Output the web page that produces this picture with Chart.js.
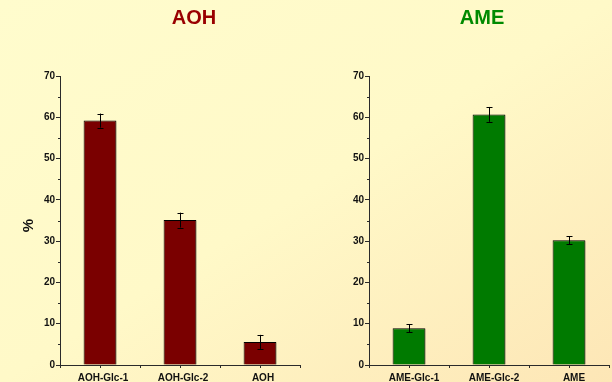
<!DOCTYPE html>
<html>
<head>
<meta charset="utf-8">
<script src="https://cdn.jsdelivr.net/npm/chart.js@4.4.1/dist/chart.umd.min.js"></script>
<style>
  html, body { margin: 0; padding: 0; }
  body {
    width: 612px; height: 382px; overflow: hidden; position: relative;
    background: linear-gradient(to bottom right, #FFFCCD 0%, #FFF9C8 50%, #FDE6B6 100%);
    font-family: "Liberation Sans", Arial, sans-serif;
  }
  .panel { position: absolute; top: 0; width: 306px; height: 382px; }
  #left { left: 0; }
  #right { left: 306px; }
</style>
</head>
<body>
<div class="panel" id="left"><canvas id="cAOH" width="306" height="382"></canvas></div>
<div class="panel" id="right"><canvas id="cAME" width="306" height="382"></canvas></div>
<script>
// Relative amounts (%) of the glucosides and free aglycones
const aohCategories = ['AOH-Glc-1', 'AOH-Glc-2', 'AOH'];
const aohValues = [59.2, 35.1, 5.6];
const aohErrors = [1.7, 1.8, 1.7];

const ameCategories = ['AME-Glc-1', 'AME-Glc-2', 'AME'];
const ameValues = [8.9, 60.7, 30.2];
const ameErrors = [1.0, 1.8, 1.0];

const yTicks = [0, 10, 20, 30, 40, 50, 60, 70];

const FONT = '"Liberation Sans", Arial, sans-serif';
const AXIS = '#2a2a2a';

// Error bars, minor ticks, category ticks, panel title and y-axis title
const decorations = {
  id: 'decorations',
  afterDatasetsDraw(chart, args, opts) {
    const ctx = chart.ctx;
    const x = chart.scales.x, y = chart.scales.y;
    const ds = chart.data.datasets[0];
    ctx.save();
    ctx.strokeStyle = '#000';
    ctx.lineWidth = 1;
    ds.data.forEach((v, i) => {
      const e = opts.errors[i];
      const cx = Math.round(x.getPixelForValue(i)) + 0.5;
      const top = y.getPixelForValue(v + e);
      const bot = y.getPixelForValue(v - e);
      ctx.beginPath();
      ctx.moveTo(cx, top); ctx.lineTo(cx, bot);
      ctx.moveTo(cx - 3, Math.round(top) + 0.5); ctx.lineTo(cx + 3, Math.round(top) + 0.5);
      ctx.moveTo(cx - 3, Math.round(bot) + 0.5); ctx.lineTo(cx + 3, Math.round(bot) + 0.5);
      ctx.stroke();
    });
    ctx.restore();
  },
  afterDraw(chart, args, opts) {
    const ctx = chart.ctx;
    const x = chart.scales.x, y = chart.scales.y;
    const area = chart.chartArea;
    ctx.save();
    ctx.strokeStyle = AXIS;
    ctx.lineWidth = 1;
    // minor ticks on the value axis
    ctx.beginPath();
    for (let v = 5; v < 70; v += 10) {
      const py = Math.round(y.getPixelForValue(v)) + 0.5;
      ctx.moveTo(area.left, py); ctx.lineTo(area.left - 2, py);
    }
    // ticks under each bar centre
    chart.data.labels.forEach((l, i) => {
      const px = Math.round(x.getPixelForValue(i)) + 0.5;
      ctx.moveTo(px, area.bottom); ctx.lineTo(px, area.bottom + 3);
    });
    ctx.stroke();

    // panel title
    ctx.fillStyle = opts.titleColor;
    ctx.font = 'bold 20px ' + FONT;
    ctx.textAlign = 'center';
    ctx.textBaseline = 'alphabetic';
    ctx.fillText(opts.title, (area.left + area.right) / 2 + opts.titleShift, 24);

    // value-axis title
    if (opts.yTitle) {
      ctx.translate(area.left - 31, (area.top + area.bottom) / 2 + 5);
      ctx.rotate(-Math.PI / 2);
      ctx.fillStyle = '#111';
      ctx.font = 'bold 15px ' + FONT;
      ctx.textBaseline = 'middle';
      ctx.fillText(opts.yTitle, 0, 0);
    }
    ctx.restore();
  }
};

// Soft drop shadow under the bars
const barShadow = {
  id: 'barShadow',
  beforeDatasetsDraw(chart) {
    const ctx = chart.ctx;
    ctx.save();
    ctx.shadowColor = 'rgba(0,0,0,0.28)';
    ctx.shadowOffsetX = 2;
    ctx.shadowOffsetY = 1;
    ctx.shadowBlur = 1;
  },
  afterDatasetsDraw(chart) {
    chart.ctx.restore();
  }
};

function makeChart(id, labels, values, errors, color, title, titleColor, titleShift, yTitle, axisWidth, padRight, labelShift) {
  return new Chart(document.getElementById(id), {
    type: 'bar',
    data: {
      labels: labels,
      datasets: [{
        data: values,
        backgroundColor: color,
        borderColor: '#000',
        borderWidth: 1,
        categoryPercentage: 1,
        barPercentage: 0.41
      }]
    },
    options: {
      responsive: false,
      animation: false,
      devicePixelRatio: 1,
      layout: { padding: { top: 76, right: padRight, bottom: 0, left: 0 } },
      plugins: {
        legend: { display: false },
        tooltip: { enabled: false },
        title: { display: false },
        decorations: { errors: errors, title: title, titleColor: titleColor, titleShift: titleShift, yTitle: yTitle }
      },
      scales: {
        x: {
          grid: { display: true, drawOnChartArea: false, offset: true, tickLength: 3, color: AXIS },
          border: { display: true, color: AXIS, width: 1 },
          ticks: { color: '#111', font: { family: FONT, size: 10, weight: 'bold' }, padding: 4, maxRotation: 0, labelOffset: labelShift },
          afterFit(s) { s.height = 17; }
        },
        y: {
          min: 0, max: 70,
          afterBuildTicks(s) { s.ticks = yTicks.map(v => ({ value: v })); },
          grid: { display: true, drawOnChartArea: false, tickLength: 4, color: AXIS },
          border: { display: true, color: AXIS, width: 1 },
          ticks: { color: '#111', font: { family: FONT, size: 10, weight: 'bold' }, padding: 1 },
          afterFit(s) { s.width = axisWidth; }
        }
      }
    },
    plugins: [barShadow, decorations]
  });
}

makeChart('cAOH', aohCategories, aohValues, aohErrors, '#7A0000', 'AOH', '#990000', 14, '%', 60, 6, 3);
makeChart('cAME', ameCategories, ameValues, ameErrors, '#007A00', 'AME', '#008A00', -7, null, 63, 3, 5);
</script>
</body>
</html>
